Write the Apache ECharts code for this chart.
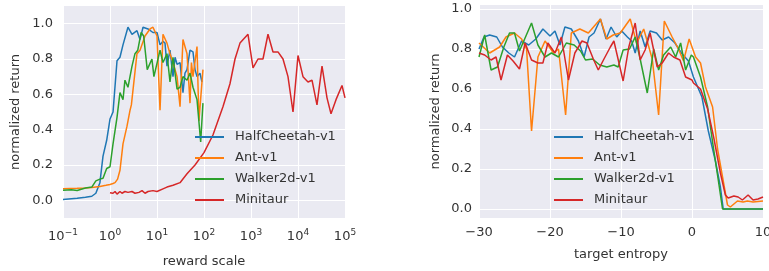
<!DOCTYPE html>
<html>
<head>
<meta charset="utf-8">
<script src="https://cdn.jsdelivr.net/npm/echarts@6/dist/echarts.min.js"></script>
<style>
  html, body { margin: 0; padding: 0; background: #fff; }
  #chart { width: 769px; height: 271px; }
</style>
</head>
<body>
<div id="chart"></div>
<script>
// series names / colours
const envNames = ['HalfCheetah-v1', 'Ant-v1', 'Walker2d-v1', 'Minitaur'];
const envColors = ['#1f77b4', '#ff7f0e', '#2ca02c', '#d62728'];

// left panel: reward scale (log x) vs normalized return
const cheetahScale = [0.1, 0.2, 0.3, 0.41, 0.5, 0.61, 0.71, 0.85, 1.0, 1.16, 1.41, 1.63, 1.89, 2.41, 2.94, 3.75, 4.35, 5.04, 6.44, 8.2, 10, 11.6, 13.4, 14.8, 16.3, 18.9, 21.9, 24.2, 26.7, 30.9, 35.7, 39.4, 43.5, 50.4, 58.3, 64.4, 71, 82, 90.6];
const cheetahScaleRet = [0.005, 0.012, 0.018, 0.023, 0.04, 0.1, 0.25, 0.34, 0.46, 0.5, 0.79, 0.81, 0.88, 0.98, 0.94, 0.96, 0.91, 0.98, 0.97, 0.95, 0.95, 0.88, 0.9, 0.89, 0.76, 0.85, 0.7, 0.81, 0.77, 0.78, 0.61, 0.72, 0.74, 0.85, 0.84, 0.74, 0.7, 0.72, 0.67];

const antScale = [0.1, 0.2, 0.3, 0.41, 0.61, 0.82, 1.0, 1.16, 1.28, 1.45, 1.63, 1.89, 2.3, 2.67, 2.85, 3.1, 3.75, 4.35, 5.56, 7.1, 8.2, 10, 11.6, 13.4, 16.3, 18.9, 21.9, 26.7, 30.9, 35.7, 43.5, 50.4, 54, 58.3, 71, 78, 95];
const antScaleRet = [0.065, 0.068, 0.07, 0.072, 0.078, 0.085, 0.09, 0.095, 0.1, 0.12, 0.17, 0.32, 0.42, 0.51, 0.54, 0.53, 0.83, 0.85, 0.93, 0.97, 0.98, 0.93, 0.51, 0.94, 0.89, 0.83, 0.78, 0.7, 0.53, 0.91, 0.83, 0.55, 0.78, 0.7, 0.87, 0.45, 0.74];

const walkerScale = [0.1, 0.15, 0.2, 0.3, 0.41, 0.5, 0.61, 0.71, 0.85, 1.0, 1.16, 1.41, 1.63, 1.89, 2.08, 2.41, 2.94, 3.4, 3.9, 4.6, 5.2, 6.2, 7.8, 8.6, 11.6, 13.4, 16.3, 18.9, 21.9, 26.7, 30.9, 35.7, 43.5, 50.4, 58.3, 71, 85, 95];
const walkerScaleRet = [0.057, 0.06, 0.056, 0.07, 0.075, 0.11, 0.12, 0.125, 0.18, 0.19, 0.32, 0.47, 0.61, 0.57, 0.68, 0.64, 0.76, 0.83, 0.85, 0.95, 0.93, 0.74, 0.8, 0.7, 0.85, 0.78, 0.83, 0.67, 0.81, 0.63, 0.64, 0.7, 0.68, 0.72, 0.64, 0.57, 0.33, 0.55];

const minitaurScale = [1.0, 1.16, 1.28, 1.41, 1.63, 1.8, 2.08, 2.41, 2.94, 3.4, 4.14, 4.8, 5.56, 6.44, 8.2, 10, 13.4, 16.3, 21.9, 30.9, 43.5, 64.4, 100, 155, 253, 357, 457, 583, 863, 1104, 1409, 1799, 2299, 2938, 3750, 4797, 6124, 7834, 10000, 12770, 16330, 19860, 25350, 32430, 41400, 50350, 64400, 86300, 100000];
const minitaurScaleRet = [0.043, 0.04, 0.05, 0.035, 0.05, 0.04, 0.05, 0.045, 0.05, 0.04, 0.045, 0.055, 0.04, 0.05, 0.055, 0.05, 0.065, 0.075, 0.085, 0.1, 0.15, 0.2, 0.27, 0.37, 0.53, 0.66, 0.8, 0.89, 0.94, 0.75, 0.8, 0.8, 0.94, 0.84, 0.84, 0.8, 0.7, 0.5, 0.82, 0.7, 0.67, 0.68, 0.54, 0.76, 0.58, 0.49, 0.57, 0.65, 0.58];

// right panel: target entropy vs normalized return
const cheetahEnt = [-30, -29.3, -28.5, -27.5, -26.7, -25.8, -25, -24, -23, -22, -21, -20, -19.3, -18.6, -17.9, -17, -16, -15.2, -14.5, -13.8, -12.9, -12.1, -11.4, -10.6, -9.9, -9.1, -8.5, -8, -7.3, -6.6, -5.9, -5, -4.2, -3.3, -2.4, -1.5, -0.5, 0.2, 1.4, 2.3, 3.3, 4.0, 4.4, 6, 8, 10];
const cheetahEntRet = [0.8, 0.86, 0.87, 0.86, 0.81, 0.78, 0.76, 0.84, 0.82, 0.85, 0.9, 0.865, 0.89, 0.82, 0.91, 0.9, 0.84, 0.76, 0.86, 0.88, 0.95, 0.85, 0.91, 0.86, 0.89, 0.86, 0.84, 0.78, 0.89, 0.81, 0.89, 0.88, 0.845, 0.86, 0.83, 0.78, 0.74, 0.66, 0.56, 0.39, 0.24, 0.11, 0.0, 0.0, 0.0, 0.0];

const antEnt = [-30, -28.5, -27.1, -26.2, -25, -24, -23.3, -22.6, -21.7, -20.7, -19.5, -18.8, -17.8, -17, -15.8, -14.6, -12.9, -12, -11.1, -10.1, -8.7, -7.8, -6.8, -5.6, -4.7, -3.9, -2.8, -1.9, -1.2, -0.4, 0.5, 1.2, 1.9, 2.9, 3.6, 4.3, 5.0, 5.4, 6.4, 7.2, 7.8, 8.6, 10];
const antEntRet = [0.83, 0.78, 0.81, 0.86, 0.88, 0.85, 0.8, 0.39, 0.76, 0.84, 0.78, 0.8, 0.47, 0.88, 0.9, 0.88, 0.95, 0.85, 0.87, 0.88, 0.95, 0.83, 0.9, 0.75, 0.47, 0.94, 0.86, 0.8, 0.74, 0.85, 0.76, 0.73, 0.61, 0.51, 0.3, 0.16, 0.02, 0.01, 0.04, 0.035, 0.04, 0.035, 0.04];

const walkerEnt = [-30, -29.2, -28.3, -27.4, -26.5, -25.7, -25, -24.3, -22.6, -21.7, -20.7, -19.8, -18.8, -17.7, -16.6, -15.7, -15, -14, -13, -12, -11, -10.4, -9.7, -8.8, -8, -7.3, -6.3, -5.4, -4.7, -4, -3, -2.3, -1.6, -0.9, -0.1, 0.2, 1.2, 2.2, 3.0, 3.7, 4.3, 6, 8, 10];
const walkerEntRet = [0.76, 0.87, 0.695, 0.71, 0.81, 0.88, 0.88, 0.79, 0.93, 0.82, 0.76, 0.78, 0.76, 0.83, 0.82, 0.79, 0.745, 0.75, 0.72, 0.71, 0.72, 0.71, 0.795, 0.8, 0.86, 0.75, 0.58, 0.8, 0.695, 0.77, 0.81, 0.76, 0.83, 0.695, 0.77, 0.76, 0.66, 0.51, 0.31, 0.145, 0.0, 0.0, 0.0, 0.0];

const minitaurEnt = [-30, -29.2, -28.3, -27.6, -26.9, -26, -25.2, -24.3, -23.5, -22.6, -21.7, -21, -20.3, -19.3, -18.4, -17.4, -16.5, -15.5, -14.8, -13.9, -13.2, -12.4, -11.5, -11, -9.7, -8.9, -8, -7.3, -6.6, -5.9, -4.9, -4.2, -3.3, -2.6, -1.7, -0.9, 0, 0.2, 1.2, 2.2, 3.1, 4.0, 4.7, 5.1, 5.9, 6.5, 7.1, 7.9, 8.6, 9.3, 10];
const minitaurEntRet = [0.78, 0.77, 0.745, 0.76, 0.645, 0.77, 0.74, 0.7, 0.83, 0.745, 0.73, 0.73, 0.83, 0.78, 0.86, 0.645, 0.78, 0.84, 0.83, 0.75, 0.695, 0.75, 0.81, 0.84, 0.64, 0.81, 0.93, 0.745, 0.795, 0.88, 0.71, 0.73, 0.78, 0.76, 0.745, 0.66, 0.645, 0.63, 0.6, 0.5, 0.35, 0.18, 0.07, 0.055, 0.065, 0.06, 0.045, 0.07, 0.045, 0.05, 0.06];

// tick labels
const retTicks = [0, 0.2, 0.4, 0.6, 0.8, 1.0];

const FONT = 'DejaVu Sans';
const TXT = '#333';

const zip = (xs, ys) => xs.map((x, i) => [x, ys[i]]);
const minus = s => String(s).replace('-', '\u2212');

const leftData = [
  zip(cheetahScale, cheetahScaleRet),
  zip(antScale, antScaleRet),
  zip(walkerScale, walkerScaleRet),
  zip(minitaurScale, minitaurScaleRet)
];
const rightData = [
  zip(cheetahEnt, cheetahEntRet),
  zip(antEnt, antEntRet),
  zip(walkerEnt, walkerEntRet),
  zip(minitaurEnt, minitaurEntRet)
];

const lineSeries = (data, idx, name, color) => ({
  name: name,
  type: 'line',
  xAxisIndex: idx,
  yAxisIndex: idx,
  data: data,
  symbol: 'none',
  smooth: false,
  lineStyle: { width: 1.5, color: color },
  itemStyle: { color: color },
  emphasis: { disabled: true }
});

const series = [];
envNames.forEach((n, i) => series.push(lineSeries(leftData[i], 0, n, envColors[i])));
envNames.forEach((n, i) => series.push(lineSeries(rightData[i], 1, n, envColors[i])));

const yAxisBase = (min, max, gap, margin) => ({
  type: 'value',
  min: min,
  max: max,
  name: 'normalized return',
  nameLocation: 'middle',
  nameGap: gap,
  nameTextStyle: { fontFamily: FONT, fontSize: 13, color: TXT },
  axisLine: { show: false },
  axisTick: { show: false, customValues: retTicks },
  axisLabel: {
    customValues: retTicks,
    formatter: v => v.toFixed(1),
    fontFamily: FONT, fontSize: 13, color: TXT, margin: margin
  },
  splitLine: { show: true, lineStyle: { color: '#ffffff', width: 1 } }
});

// legend: plain line keys, no markers
const legendBase = (left, top) => ({
  data: envNames,
  orient: 'vertical',
  left: left,
  top: top,
  icon: 'rect',
  itemWidth: 29,
  itemHeight: 2,
  itemGap: 7,
  selectedMode: false,
  textStyle: { fontFamily: FONT, fontSize: 13, color: TXT, padding: [0, 0, 0, 6], lineHeight: 14 }
});

const chart = echarts.init(document.getElementById('chart'), null, { renderer: 'canvas' });
chart.setOption({
  animation: false,
  backgroundColor: '#ffffff',
  grid: [
    { left: 63, top: 6, width: 282, height: 212, show: true, backgroundColor: '#eaeaf2', borderWidth: 0, outerBoundsMode: 'none' },
    { left: 479, top: 5, width: 284, height: 213, show: true, backgroundColor: '#eaeaf2', borderWidth: 0, outerBoundsMode: 'none' }
  ],
  legend: [legendBase(190, 125), legendBase(549, 125)],
  xAxis: [
    {
      type: 'log',
      logBase: 10,
      gridIndex: 0,
      min: 0.1,
      max: 100000,
      name: 'reward scale',
      nameLocation: 'middle',
      nameGap: 37,
      nameTextStyle: { fontFamily: FONT, fontSize: 13, color: TXT },
      axisLine: { show: false },
      axisTick: { show: false },
      axisLabel: {
        margin: 10,
        formatter: v => {
          const e = Math.round(Math.log10(v));
          return '{b|10}{s|' + minus(e) + '}';
        },
        rich: {
          b: { fontFamily: FONT, fontSize: 13, color: TXT },
          s: { fontFamily: FONT, fontSize: 9, color: TXT, padding: [0, 0, 9, 0] }
        }
      },
      minorTick: { show: false },
      splitLine: { show: true, lineStyle: { color: '#ffffff', width: 1 } }
    },
    {
      type: 'value',
      gridIndex: 1,
      min: -30,
      max: 10,
      interval: 10,
      name: 'target entropy',
      nameLocation: 'middle',
      nameGap: 30,
      nameTextStyle: { fontFamily: FONT, fontSize: 13, color: TXT },
      axisLine: { show: false },
      axisTick: { show: false },
      axisLabel: {
        margin: 8,
        formatter: v => minus(v),
        fontFamily: FONT, fontSize: 13, color: TXT
      },
      splitLine: { show: true, lineStyle: { color: '#ffffff', width: 1 } }
    }
  ],
  yAxis: [
    Object.assign(yAxisBase(-0.1, 1.1, 41, 10), { gridIndex: 0 }),
    Object.assign(yAxisBase(-0.045, 1.02, 37, 7), { gridIndex: 1 })
  ],
  series: series
});
</script>
</body>
</html>
